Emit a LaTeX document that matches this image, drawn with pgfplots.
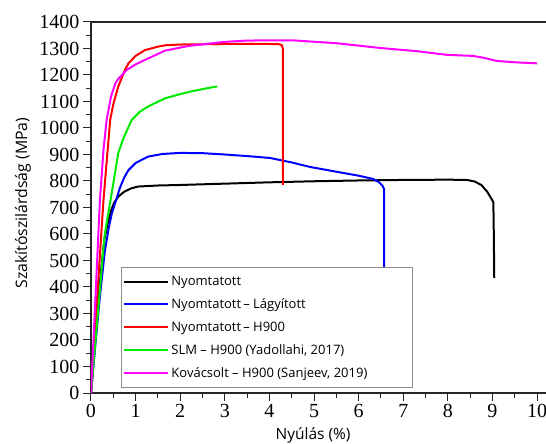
\documentclass[border=0pt]{standalone}
\usepackage{pgfplots}
\pgfplotsset{compat=1.18}
\usepackage{fontspec}
\setmainfont{Liberation Serif}
\newfontfamily\tickfont{Liberation Serif}
\newfontfamily\labfont{Open Sans}
\definecolor{cgreen}{RGB}{0,235,0}
\definecolor{cmag}{RGB}{255,0,255}
\begin{document}
\begin{tikzpicture}
\begin{axis}[name=ax, scale only axis, width=455pt, height=371pt,
  xmin=0, xmax=10.2, ymin=0, ymax=1400,
  axis x line*=box, axis y line*=left,
  xtick={0,...,10}, ytick={0,100,...,1400},
  minor x tick num=1, minor y tick num=1,
  tick align=outside, xtick pos=bottom, ytick pos=left,
  major tick length=8pt, minor tick length=5pt,
  every tick/.style={black!85, line width=1pt},
  axis line style={line width=1.3pt, black!85},
  xticklabel style={font=\tickfont\fontsize{20}{20}\selectfont},
  yticklabel style={font=\tickfont\fontsize{20}{20}\selectfont},
  xticklabel={\tickfont\pgfmathprintnumber{\tick}},
  yticklabel={\tickfont\pgfmathprintnumber{\tick}},
  /pgf/number format/assume math mode=true,
  /pgf/number format/1000 sep={},
  xlabel={Nyúlás (\%)}, ylabel={Szakítószilárdság (MPa)},
  xlabel style={font=\labfont\fontsize{15.5}{15.5}\selectfont, at={(axis description cs:0.488,-0.113)}, anchor=center},
  ylabel style={font=\labfont\fontsize{15.8}{15.8}\selectfont, at={(axis description cs:-0.1495,0.512)}, anchor=center},
  legend cell align=left,
  legend image code/.code={\draw[#1] (0pt,0pt) -- (44pt,0pt);},
  legend style={at={(rel axis cs:0.066,0.0135)}, anchor=south west,
    draw=black!45, fill=white, line width=0.8pt,
    font=\labfont\fontsize{13}{13}\selectfont,
    row sep=7.6pt, inner xsep=2pt, inner ysep=7pt},
  every axis plot/.append style={line width=2pt},
]
\addplot[black] coordinates {(0,0)(0.1,210)(0.2,420)(0.3,580)(0.38,645)(0.45,688)(0.52,718)(0.61,741)(0.75,760)(0.9,772)(1.05,779)(1.5,783)(2,785)(3,790)(4,795)(5,799)(6,802)(7,804)(8,805)(8.43,804)(8.6,798)(8.75,785)(8.88,760)(8.97,735)(9.02,720)(9.03,600)(9.04,434)};
\addlegendentry{\makebox[237pt][l]{Nyomtatott}}
\addplot[blue] coordinates {(0,0)(0.1,185)(0.2,365)(0.31,535)(0.4,625)(0.47,680)(0.54,716)(0.65,775)(0.75,815)(0.84,841)(1.0,868)(1.28,892)(1.6,902)(2.0,906)(2.5,905)(3,900)(3.5,894)(4.01,887)(4.5,870)(4.91,853)(5.5,835)(6.0,820)(6.32,808)(6.45,796)(6.53,783)(6.57,770)(6.57,450)};
\addlegendentry{Nyomtatott\,– Lágyított}
\addplot[red] coordinates {(0,0)(0.1,260)(0.2,520)(0.28,728)(0.34,850)(0.39,950)(0.43,1030)(0.5,1090)(0.61,1156)(0.76,1219)(0.84,1244)(1.0,1272)(1.21,1294)(1.5,1307)(1.66,1312)(2,1315)(3,1317)(4,1317)(4.22,1316)(4.28,1312)(4.3,1300)(4.3,785)};
\addlegendentry{Nyomtatott\,– H900}
\addplot[cgreen] coordinates {(0,0)(0.1,195)(0.2,390)(0.27,530)(0.31,600)(0.4,690)(0.5,790)(0.61,905)(0.72,958)(0.91,1030)(1.1,1062)(1.3,1083)(1.66,1112)(2,1128)(2.3,1140)(2.6,1150)(2.83,1157)};
\addlegendentry{SLM – H900 (Yadollahi, 2017)}
\addplot[cmag] coordinates {(0,0)(0.1,360)(0.2,728)(0.28,917)(0.35,1030)(0.45,1120)(0.55,1170)(0.61,1185)(0.8,1219)(1.0,1240)(1.21,1257)(1.66,1292)(2.2,1310)(3,1325)(3.5,1330)(4.5,1331)(5.5,1320)(6.48,1302)(7.3,1290)(7.98,1276)(8.57,1272)(8.8,1265)(9.1,1253)(9.5,1248)(10,1244)};
\addlegendentry{Kovácsolt – H900 (Sanjeev, 2019)}
\end{axis}
\pgfresetboundingbox
\path[use as bounding box] ([shift={(-91pt,-51pt)}]ax.south west) rectangle ([shift={(0pt,22pt)}]ax.north east);
\end{tikzpicture}
\end{document}
